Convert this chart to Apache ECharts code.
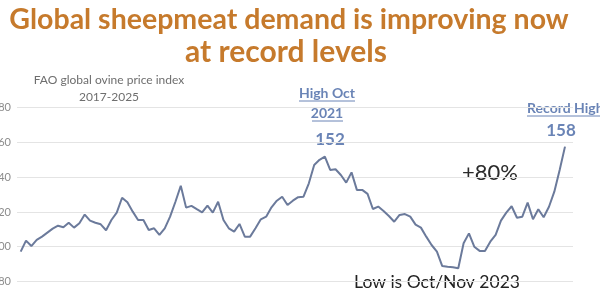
<!DOCTYPE html>
<html>
<head>
<meta charset="utf-8">
<script src="https://cdn.jsdelivr.net/npm/echarts@6/dist/echarts.min.js"></script>
<style>html,body{margin:0;padding:0;background:#fff}#c{width:600px;height:300px}</style>
</head>
<body>
<div id="c"></div>
<script>
// FAO global ovine price index, monthly Jan 2017 - Jul 2025
const months = [
'Jan 2017','Feb 2017','Mar 2017','Apr 2017','May 2017','Jun 2017','Jul 2017','Aug 2017','Sep 2017','Oct 2017','Nov 2017','Dec 2017',
'Jan 2018','Feb 2018','Mar 2018','Apr 2018','May 2018','Jun 2018','Jul 2018','Aug 2018','Sep 2018','Oct 2018','Nov 2018','Dec 2018',
'Jan 2019','Feb 2019','Mar 2019','Apr 2019','May 2019','Jun 2019','Jul 2019','Aug 2019','Sep 2019','Oct 2019','Nov 2019','Dec 2019',
'Jan 2020','Feb 2020','Mar 2020','Apr 2020','May 2020','Jun 2020','Jul 2020','Aug 2020','Sep 2020','Oct 2020','Nov 2020','Dec 2020',
'Jan 2021','Feb 2021','Mar 2021','Apr 2021','May 2021','Jun 2021','Jul 2021','Aug 2021','Sep 2021','Oct 2021','Nov 2021','Dec 2021',
'Jan 2022','Feb 2022','Mar 2022','Apr 2022','May 2022','Jun 2022','Jul 2022','Aug 2022','Sep 2022','Oct 2022','Nov 2022','Dec 2022',
'Jan 2023','Feb 2023','Mar 2023','Apr 2023','May 2023','Jun 2023','Jul 2023','Aug 2023','Sep 2023','Oct 2023','Nov 2023','Dec 2023',
'Jan 2024','Feb 2024','Mar 2024','Apr 2024','May 2024','Jun 2024','Jul 2024','Aug 2024','Sep 2024','Oct 2024','Nov 2024','Dec 2024',
'Jan 2025','Feb 2025','Mar 2025','Apr 2025','May 2025','Jun 2025','Jul 2025'
];
const ovineIndex = [
97.2,103.5,100.4,103.9,105.8,108.1,110.4,112.1,111.2,113.8,
111,113.5,118.5,115,113.8,112.9,109.5,115.4,119.6,128.2,
125.6,120.2,115.4,115.4,109.6,110.6,106.8,110.6,117.3,125.9,
135.1,122.5,123.5,121.6,119.8,123.6,119.6,125.9,115.4,110.6,
108.7,113.1,105.8,105.8,110.6,115.8,117.3,122.7,126.5,128.8,
124,126.5,128.5,128.8,136.5,147,150,151.8,144.2,144.6,
141.3,136.9,142.8,132.7,132.7,130.4,121.7,123.1,120.6,117.7,
114.4,118.3,118.8,117.3,112.7,111,105.8,101,97.2,88.9,
88.5,88.2,87.6,102,107.7,100,97.6,97.6,102.9,106.8,
115,119.6,123.3,116.7,117.3,125.4,115.8,121.6,117,123,
131.7,144.2,157.6
];
const yTicks = { min: 80, max: 180, interval: 20 };

const FONT = 'Lato, "Open Sans", sans-serif';
const ORANGE = '#C67A2C';
const BLUE = '#6A84B6';

const chart = echarts.init(document.getElementById('c'), null, { renderer: 'canvas' });
chart.setOption({
  animation: false,
  backgroundColor: '#ffffff',
  grid: { left: 17, right: 27, top: 107.7, bottom: 18.5, containLabel: false, outerBoundsMode: 'none' },
  tooltip: { trigger: 'axis', formatter: p => months[p[0].data[0]] + ': ' + p[0].data[1] },
  xAxis: {
    type: 'value', min: -0.69, max: 103.5,
    show: false
  },
  yAxis: {
    type: 'value', min: yTicks.min, max: yTicks.max, interval: yTicks.interval,
    axisLine: { show: false }, axisTick: { show: false },
    axisLabel: { color: '#8c8c8c', fontSize: 11, fontFamily: FONT, margin: 6 },
    splitLine: { lineStyle: { color: '#e4e4e4', width: 1 } }
  },
  series: [{
    type: 'line',
    name: 'FAO global ovine price index',
    data: ovineIndex.map((v, i) => [i, v]),
    showSymbol: false,
    lineStyle: { color: '#6B7A9B', width: 2 },
    itemStyle: { color: '#6B7A9B' }
  }],
  graphic: [
    { type: 'text', style: { text: 'Global sheepmeat demand is improving now', x: 289, y: 20, align: 'center', verticalAlign: 'middle', fill: ORANGE, font: 'bold 28.5px ' + FONT } },
    { type: 'text', style: { text: 'at record levels', x: 286, y: 52, align: 'center', verticalAlign: 'middle', fill: ORANGE, font: 'bold 30px ' + FONT } },
    { type: 'text', style: { text: 'FAO global ovine price index', x: 109, y: 80, align: 'center', verticalAlign: 'middle', fill: '#6e6e6e', font: '12px ' + FONT } },
    { type: 'text', style: { text: '2017-2025', x: 109, y: 97, align: 'center', verticalAlign: 'middle', fill: '#6e6e6e', font: '12px ' + FONT } },
    { type: 'text', style: { text: 'High Oct', x: 327, y: 93, align: 'center', verticalAlign: 'middle', fill: BLUE, font: 'bold 14px ' + FONT } },
    { type: 'line', shape: { x1: 299, y1: 101, x2: 355, y2: 101 }, style: { stroke: BLUE, lineWidth: 1 } },
    { type: 'text', style: { text: '2021', x: 327, y: 113, align: 'center', verticalAlign: 'middle', fill: BLUE, font: 'bold 14px ' + FONT } },
    { type: 'line', shape: { x1: 312, y1: 121, x2: 343, y2: 121 }, style: { stroke: BLUE, lineWidth: 1 } },
    { type: 'text', style: { text: '152', x: 330, y: 140, align: 'center', verticalAlign: 'middle', fill: BLUE, font: 'bold 17px ' + FONT } },
    { type: 'text', style: { text: 'Record High', x: 527, y: 108, align: 'left', verticalAlign: 'middle', fill: BLUE, font: 'bold 14px ' + FONT } },
    { type: 'line', shape: { x1: 527, y1: 116, x2: 600, y2: 116 }, style: { stroke: BLUE, lineWidth: 1 } },
    { type: 'text', style: { text: '158', x: 561, y: 131, align: 'center', verticalAlign: 'middle', fill: BLUE, font: 'bold 17px ' + FONT } },
    { type: 'text', style: { text: '+80%', x: 490, y: 173, align: 'center', verticalAlign: 'middle', fill: '#2a2a2a', font: '22px ' + FONT } },
    { type: 'text', style: { text: 'Low is Oct/Nov 2023', x: 437, y: 282, align: 'center', verticalAlign: 'middle', fill: '#222222', font: '17.5px ' + FONT } }
  ]
});
</script>
</body>
</html>
